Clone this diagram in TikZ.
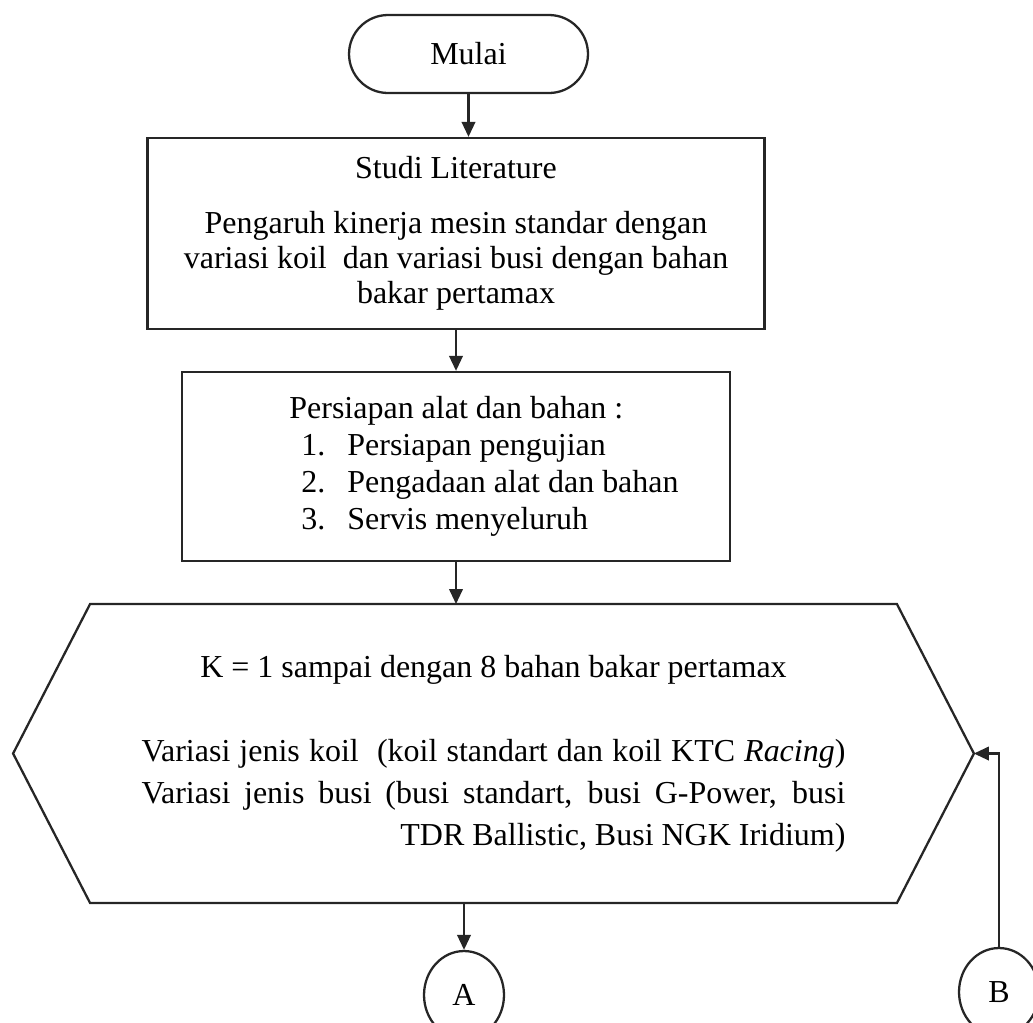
\documentclass[tikz,border=0pt]{standalone}
\usepackage{fontspec}
\setmainfont{Liberation Serif}
\usetikzlibrary{arrows.meta,shapes.geometric}

\begin{document}
\begin{tikzpicture}[
    x=0.02cm, y=-0.02cm,
    box/.style={
        draw=black!85,
        line width=1.3pt,
        align=center,
        inner sep=0pt,
        font=\fontsize{18.2}{19.9}\selectfont
    },
    terminal/.style={box, rounded corners=0.78cm, minimum width=4.78cm, minimum height=1.56cm},
    process/.style={box},
    loopbox/.style={box, draw=none, outer sep=0pt, font=\fontsize{18.2}{23.9}\selectfont},
    connector/.style={box, ellipse, minimum width=1.6cm, minimum height=1.76cm},
    outline/.style={draw=black!85, line width=1.3pt},
    arrow/.style={-{Triangle[length=0.3cm,width=0.27cm]}, line width=1.3pt, draw=black!85}
]
\useasboundingbox (0,0) rectangle (1033,1022);

\node[terminal] (mulai) at (468.5,54) {Mulai};
\node[process, minimum width=12.34cm, minimum height=3.82cm] (studi) at (456,233.5)
    {Studi Literature\\[11.4pt]
     Pengaruh kinerja mesin standar dengan\\
     variasi koil\ \ dan variasi busi dengan bahan\\
     bakar pertamax};
\node[process, align=left, minimum width=10.96cm, minimum height=3.78cm,
      font=\fontsize{18.2}{21}\selectfont] (persiapan) at (456,466.5)
    {\hspace*{1.12cm}Persiapan alat dan bahan :\\
     \hspace*{1.36cm}\makebox[0.92cm][l]{1.}Persiapan pengujian\\
     \hspace*{1.36cm}\makebox[0.92cm][l]{2.}Pengadaan alat dan bahan\\
     \hspace*{1.36cm}\makebox[0.92cm][l]{3.}Servis menyeluruh};

% loop block
\node[loopbox, minimum width=16.14cm, minimum height=5.98cm] (kloop) at (493.5,753.5)
    {K = 1 sampai dengan 8 bahan bakar pertamax\\[23.9pt]
     \makebox[14.08cm][s]{Variasi jenis koil\ \ (koil standart dan koil KTC \textit{Racing})}\\
     \makebox[14.08cm][s]{Variasi jenis busi (busi standart, busi G-Power, busi}\\
     \makebox[14.08cm][r]{TDR Ballistic, Busi NGK Iridium)}};
\coordinate (kright) at ([xshift=1.54cm]kloop.east);
\coordinate (kleft) at ([xshift=-1.54cm]kloop.west);
\draw[outline] (kloop.north west) -- (kloop.north east) -- (kright)
    -- (kloop.south east) -- (kloop.south west) -- (kleft) -- cycle;

\node[connector] (anode) at (464,995) {A};
\node[connector] (bnode) at (999,992) {B};

\draw[arrow] (mulai.south) -- (mulai.south |- studi.north);
\draw[arrow] (studi.south) -- (persiapan.north);
\draw[arrow] (persiapan.south) -- (persiapan.south |- kloop.north);
\draw[arrow] (kloop.south -| anode.north) -- (anode.north);
\draw[arrow] (bnode.north) |- (kright);
\end{tikzpicture}
\end{document}
